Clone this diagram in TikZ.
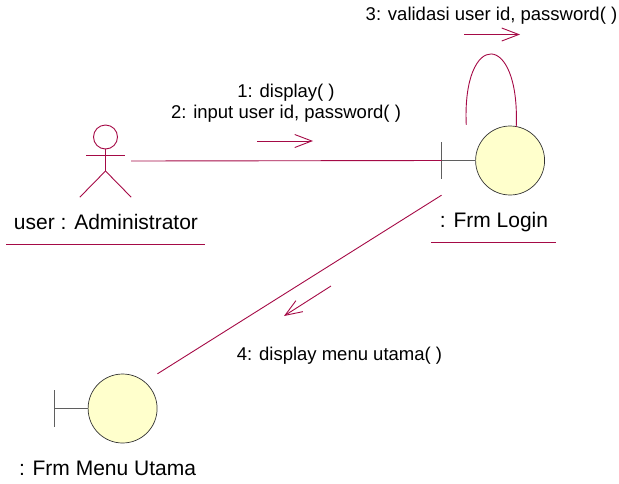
\documentclass[tikz,border=0pt]{standalone}
\usepackage{fontspec}
\setmainfont{Liberation Sans}
\usetikzlibrary{arrows.meta}
\definecolor{rosered}{RGB}{165,10,70}
\definecolor{rosefill}{RGB}{255,255,204}
\definecolor{rosegray}{RGB}{95,95,95}
\begin{document}
\begin{tikzpicture}[x=1pt,y=-1pt,
  link/.style={draw=rosered,line width=0.9pt},
  msg/.style={draw=rosered,line width=0.9pt,-{Straight Barb[length=17pt,width=13pt]}},
  ball/.style={circle,draw=black!80,fill=rosefill,line width=0.7pt,minimum size=69pt,inner sep=0pt},
  bound/.style={minimum width=103pt,minimum height=69pt,inner sep=0pt},
  bar/.style={draw=rosegray,line width=1pt},
  small/.style={font=\fontsize{18.5}{20}\selectfont,anchor=base,inner sep=0pt},
  big/.style={font=\fontsize{21}{24}\selectfont,anchor=base,inner sep=0pt}]
\useasboundingbox (0,0) rectangle (619,483);

\node[bound] (login) at (493.25,160.5) {};
\node[ball,anchor=east] (loginball) at (login.east) {};
\draw[bar] (login.west) ++(0,-18.5) -- ++(0,37);
\draw[bar] (login.west) -- (loginball.west);

\node[bound] (menu) at (105.75,408.5) {};
\node[ball,anchor=east] (menuball) at (menu.east) {};
\draw[bar] (menu.west) ++(0,-18.5) -- ++(0,37);
\draw[bar] (menu.west) -- (menuball.west);

\node[minimum width=51pt,minimum height=72pt,inner sep=0pt] (admin) at (105.5,161) {};
\draw[link] (admin.center) ++(0,-24) circle[radius=12pt];
\draw[link] (admin.center) ++(-19.5,-6) -- ++(39,0);
\draw[link] (admin.center) ++(0,-12) -- ++(0,22) -- (admin.south west);
\draw[link] (admin.center) ++(0,10) -- (admin.south east);

\node[big] (adminlabel) at (106,229) {user : Administrator};
\node[big] (loginlabel) at (494,227) {: Frm Login};
\node[big] (menulabel) at (107.5,475) {: Frm Menu Utama};
\draw[link] (6,244) -- (205,244);
\draw[link] (431,242) -- (556,242);

\draw[link] (admin.east) -- (login.west);
\draw[link] (login.south west) -- (menu.north east);
\coordinate (loopa) at ([xshift=-27pt,yshift=1pt]login.north);
\coordinate (loopb) at ([xshift=23pt,yshift=-1pt]login.north);
\draw[link] (loopa) .. controls (462,30) and (520,30) .. (loopb);

\node[small] (msgone) at (286,97.7) {1: display( )};
\node[small] (msgtwo) at (286,118) {2: input user id, password( )};
\node[small] (msgthree) at (491.5,20.7) {3: validasi user id, password( )};
\node[small] (msgfour) at (339.5,360.7) {4: display menu utama( )};
\draw[msg] (257,141) -- (313,141);
\draw[msg] (464,34.5) -- (520,34.5);
\draw[msg] (331,286) -- (284,316);
\end{tikzpicture}
\end{document}
